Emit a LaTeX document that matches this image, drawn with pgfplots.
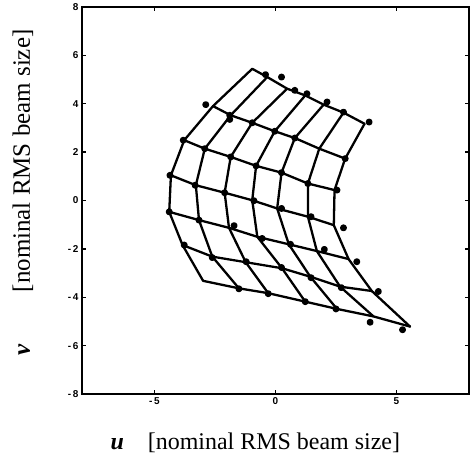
\documentclass[border=0pt]{standalone}
\usepackage{pgfplots}
\pgfplotsset{compat=1.18}
\usepackage{fontspec}
\setmainfont{Liberation Serif}
\setsansfont{Liberation Sans}
\begin{document}
\begin{tikzpicture}
\begin{axis}[
    scale only axis,
    width=388pt, height=388pt,
    xmin=-8, xmax=8,
    ymin=-8, ymax=8,
    xtick={-5,0,5},
    xticklabels={\textbf{-\,5},\textbf{0},\textbf{5}},
    ytick={-8,-6,-4,-2,0,2,4,6,8},
    yticklabels={\textbf{-\,8},\textbf{-\,6},\textbf{-\,4},\textbf{-\,2},\textbf{0},\textbf{2},\textbf{4},\textbf{6},\textbf{8}},
    tick label style={font=\sffamily\fontsize{10}{11}\selectfont},
    tick align=inside,
    major tick length=4pt,
    tick style={line width=1.5pt, black},
    axis line style={line width=1.8pt},
    xlabel={\textbf{\textit{u}}\quad[nominal RMS beam size]},
    ylabel={\textbf{\textit{v}}\hspace{2.1em}[nominal RMS beam size]},
    xlabel style={font=\fontsize{24}{28}\selectfont, at={(axis description cs:0.448,-0.126)}, anchor=center},
    ylabel style={font=\fontsize{25}{29}\selectfont, at={(axis description cs:-0.152,0.52)}, anchor=center},
    every axis plot/.append style={line width=2.3pt, black, line join=round, line cap=round},
]
% rows of the fitted grid
\addplot[] coordinates {(-0.96,5.44) (-0.34,5.10) (0.48,4.62) (1.23,4.34) (1.99,3.96) (2.81,3.63) (3.68,3.17)};
\addplot[] coordinates {(-2.58,3.90) (-1.85,3.52) (-0.96,3.21) (-0.03,2.86) (0.80,2.58) (1.81,2.14) (2.88,1.73)};
\addplot[] coordinates {(-3.77,2.49) (-2.92,2.14) (-1.85,1.80) (-0.80,1.43) (0.25,1.15) (1.34,0.70) (2.44,0.43)};
\addplot[] coordinates {(-4.32,1.04) (-3.29,0.63) (-2.10,0.32) (-0.96,0.01) (0.07,-0.33) (1.34,-0.67) (2.41,-1.02)};
\addplot[] coordinates {(-4.39,-0.47) (-3.16,-0.81) (-1.92,-1.13) (-0.75,-1.50) (0.55,-1.81) (1.71,-2.09) (3.02,-2.42)};
\addplot[] coordinates {(-3.84,-1.84) (-2.61,-2.32) (-1.23,-2.55) (0.27,-2.80) (1.44,-3.15) (2.67,-3.56) (3.98,-3.74)};
\addplot[] coordinates {(-2.99,-3.32) (-1.51,-3.63) (-0.30,-3.83) (1.23,-4.18) (2.54,-4.48) (4.05,-4.79) (5.56,-5.21)};
% columns of the fitted grid
\addplot[] coordinates {(-0.96,5.44) (-2.58,3.90) (-3.77,2.49) (-4.32,1.04) (-4.39,-0.47) (-3.84,-1.84) (-2.99,-3.32)};
\addplot[] coordinates {(-0.34,5.10) (-1.85,3.52) (-2.92,2.14) (-3.29,0.63) (-3.16,-0.81) (-2.61,-2.32) (-1.51,-3.63)};
\addplot[] coordinates {(0.48,4.62) (-0.96,3.21) (-1.85,1.80) (-2.10,0.32) (-1.92,-1.13) (-1.23,-2.55) (-0.30,-3.83)};
\addplot[] coordinates {(1.23,4.34) (-0.03,2.86) (-0.80,1.43) (-0.96,0.01) (-0.75,-1.50) (0.27,-2.80) (1.23,-4.18)};
\addplot[] coordinates {(1.99,3.96) (0.80,2.58) (0.25,1.15) (0.07,-0.33) (0.55,-1.81) (1.44,-3.15) (2.54,-4.48)};
\addplot[] coordinates {(2.81,3.63) (1.81,2.14) (1.34,0.70) (1.34,-0.67) (1.71,-2.09) (2.67,-3.56) (4.05,-4.79)};
\addplot[] coordinates {(3.68,3.17) (2.88,1.73) (2.44,0.43) (2.41,-1.02) (3.02,-2.42) (3.98,-3.74) (5.56,-5.21)};
% measured points
\addplot[only marks, mark=*, mark size=2.3pt] coordinates {
(-0.41,5.20) (0.25,5.10) (0.80,4.55) (1.30,4.41) (2.13,4.07) (2.81,3.65) (3.87,3.24)
(-2.88,3.96) (-1.89,3.52) (-1.89,3.35) (-0.96,3.21) (-0.03,2.86) (0.80,2.58) (2.88,1.73)
(-3.81,2.49) (-2.92,2.14) (-1.85,1.80) (-0.80,1.43) (0.25,1.15) (1.34,0.70) (2.54,0.43)
(-4.36,1.04) (-3.32,0.63) (-2.10,0.32) (-0.89,-0.01) (0.25,-0.33) (1.47,-0.67)
(-4.39,-0.47) (-3.16,-0.81) (-1.71,-1.04) (-0.55,-1.57) (0.62,-1.81) (2.02,-2.02) (2.81,-1.13)
(-3.77,-1.84) (-2.61,-2.36) (-1.21,-2.53) (0.25,-2.77) (1.47,-3.19) (2.72,-3.60) (3.36,-2.53) (4.25,-3.76)
(-1.51,-3.65) (-0.30,-3.85) (1.23,-4.18) (2.50,-4.48) (3.91,-5.03) (5.25,-5.34)
};
\end{axis}
\path[use as bounding box] (-82pt,-70pt) rectangle (388pt,388pt);
\end{tikzpicture}
\end{document}
